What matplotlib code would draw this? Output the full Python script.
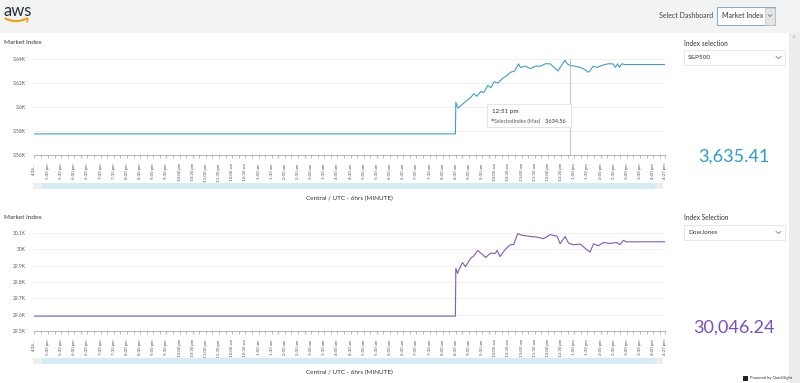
import numpy as np
import pandas as pd
import matplotlib
matplotlib.use("Agg")
import matplotlib.pyplot as plt
import matplotlib.dates as mdates
from matplotlib.patches import Rectangle, Arc
from matplotlib.lines import Line2D

plt.rcParams['font.family'] = ['Lato', 'DejaVu Sans']

# --- data -----------------------------------------------------------------
window_start = "2020-11-23 16:28"
window_end = "2020-11-24 16:27"
trade_day = "2020-11-24"
pre_open = "08:29"

spx_prev_close = 3577.59
spx_last = 3635.41
spx_times = ["08:30", "08:35", "08:44", "08:57", "09:04", "09:11", "09:18", "09:27",
             "09:34", "09:43", "09:50", "09:57", "10:06", "10:17", "10:26", "10:35",
             "10:44", "10:53", "10:57", "11:09", "11:20", "11:31", "11:43", "11:54",
             "12:05", "12:17", "12:23", "12:28", "12:39", "12:44", "12:51", "13:02",
             "13:14", "13:25", "13:32", "13:36", "13:43", "13:52", "14:06", "14:17",
             "14:28", "14:34", "14:39", "14:43", "14:48", "14:55"]
spx_values = [3604, 3599, 3602, 3606, 3608, 3611, 3609, 3613,
              3612, 3618, 3616, 3621, 3620, 3624, 3626, 3629,
              3630, 3636, 3633, 3634, 3632, 3634, 3634, 3636,
              3636, 3632, 3630, 3633, 3639, 3636, 3634.56, 3634,
              3633, 3631, 3629, 3630, 3634, 3633, 3635, 3636,
              3636, 3633, 3636, 3633, 3636, 3635.4]

dji_prev_close = 29591.27
dji_last = 30046.24
dji_times = ["08:30", "08:34", "08:37", "08:45", "08:52", "09:04", "09:11", "09:20",
             "09:30", "09:38", "09:49", "10:00", "10:04", "10:11", "10:23", "10:34",
             "10:42", "10:51", "11:01", "11:20", "11:35", "11:50", "12:05", "12:21",
             "12:28", "12:39", "12:47", "12:58", "13:14", "13:29", "13:36", "13:44",
             "13:55", "14:07", "14:22", "14:37", "14:44", "14:52", "14:59"]
dji_values = [29884, 29853, 29874, 29919, 29894, 29946, 29960, 29993,
              29970, 29950, 29977, 29975, 29993, 29956, 30001, 30028,
              30030, 30096, 30086, 30079, 30075, 30065, 30090, 30080,
              30034, 30079, 30038, 30028, 30032, 29997, 29983, 30034,
              30022, 30042, 30036, 30042, 30028, 30055, 30046]

spx_yticks = [3560, 3580, 3600, 3620, 3640]
spx_ylabels = ["3.56K", "3.58K", "3.6K", "3.62K", "3.64K"]
dji_yticks = [29500, 29600, 29700, 29800, 29900, 30000, 30100]
dji_ylabels = ["29.5K", "29.6K", "29.7K", "29.8K", "29.9K", "30K", "30.1K"]

tick_times = pd.date_range("2020-11-23 17:00", "2020-11-24 16:00", freq="30min")
first_label = "4:28..."
last_label = "4:27 pm"

tooltip_time = "12:51"
tooltip_value = 3634.56

spx_color = "#3d9fc9"
dji_color = "#8059b6"

W, H = 800, 383


def fx(x):
    return x / W


def fy(y):
    return 1 - y / H


def build_series(prev_close, times, values, last):
    t = [window_start, f"{trade_day} {pre_open}"] + [f"{trade_day} {s}" for s in times] + [window_end]
    v = [prev_close, prev_close] + list(values) + [last]
    return pd.to_datetime(t), v


def tlabel(ts):
    return ts.strftime("%I:%M %p").lstrip("0").lower()


fig = plt.figure(figsize=(8, 3.83), dpi=100)
fig.patch.set_facecolor("white")

# header and side strip
fig.add_artist(Rectangle((0, fy(33)), 1, 33 / H, transform=fig.transFigure,
                         facecolor="#f2f3f3", edgecolor="none", zorder=0))
fig.add_artist(Rectangle((fx(789), 0), 11 / W, fy(33), transform=fig.transFigure,
                         facecolor="#ececec", edgecolor="none", zorder=0))
fig.text(fx(792), fy(41), "^", fontsize=5, color="#aaaaaa")

# aws logo
fig.text(fx(4), fy(11), "aws", fontsize=12, color="#232f3e", va="center", ha="left")
fig.add_artist(Arc((fx(16), fy(16)), 24 / W, 10 / H, theta1=200, theta2=340,
                   transform=fig.transFigure, color="#ff9900", lw=1.4))
fig.add_artist(Line2D([fx(24), fx(28), fx(27)], [fy(19.5), fy(18.5), fy(22)],
                      transform=fig.transFigure, color="#ff9900", lw=1.0))

# select dashboard
fig.text(fx(713), fy(16), "Select Dashboard", fontsize=5, color="#444444", ha="right", va="center")
fig.add_artist(Rectangle((fx(717), fy(25)), 58 / W, 18 / H, transform=fig.transFigure,
                         facecolor="white", edgecolor="#7fa9d8", lw=0.7))
fig.add_artist(Rectangle((fx(765), fy(24.5)), 9.5 / W, 17 / H, transform=fig.transFigure,
                         facecolor="#e4e4e4", edgecolor="#bbbbbb", lw=0.4))
fig.text(fx(722), fy(16), "Market Index", fontsize=5, color="#333333", va="center")
fig.add_artist(Line2D([fx(768), fx(770), fx(772)], [fy(14.5), fy(16.5), fy(14.5)],
                      transform=fig.transFigure, color="#666666", lw=0.5))


def draw_panel(top, bottom, times, values, color, yticks, ylabels, title_y, bar_y, label_y):
    ax = fig.add_axes([fx(34), fy(bottom), (665 - 34) / W, (bottom - top) / H])
    ax.plot(times, values, color=color, lw=0.8)
    ax.set_ylim(yticks[0], yticks[-1])
    ax.set_yticks(yticks)
    ax.set_yticklabels(ylabels)
    start, end = pd.Timestamp(window_start), pd.Timestamp(window_end)
    ax.set_xlim(start, end)
    ax.set_xticks([start] + list(tick_times) + [end])
    ax.set_xticklabels([first_label] + [tlabel(t) for t in tick_times] + [last_label],
                       rotation=90, fontsize=3.2, color="#555555")
    ax.xaxis.set_minor_locator(mdates.MinuteLocator(byminute=[15, 45]))
    ax.tick_params(axis="x", which="both", length=2, width=0.4, color="#888888", pad=4)
    ax.tick_params(axis="y", length=0, labelsize=3.5, labelcolor="#555555", pad=6)
    ax.grid(axis="y", color="#eeeeee", lw=0.6)
    for s in ["top", "right", "left"]:
        ax.spines[s].set_visible(False)
    ax.spines["bottom"].set_color("#999999")
    ax.spines["bottom"].set_linewidth(0.5)
    ax.set_axisbelow(True)

    fig.text(fx(4), fy(title_y), "Market Index", fontsize=4.6, color="#333333", va="center")
    # range slider
    fig.add_artist(Rectangle((fx(33), fy(bar_y + 6)), 9 / W, 6 / H, transform=fig.transFigure,
                             facecolor="#efefef", edgecolor="none"))
    fig.add_artist(Rectangle((fx(42), fy(bar_y + 6)), 613 / W, 6 / H, transform=fig.transFigure,
                             facecolor="#d6ecf5", edgecolor="none"))
    fig.add_artist(Rectangle((fx(655), fy(bar_y + 6)), 8 / W, 6 / H, transform=fig.transFigure,
                             facecolor="#ececec", edgecolor="none"))
    fig.text(fx(349), fy(label_y), "Central / UTC - 6hrs (MINUTE)", fontsize=4.6,
             color="#333333", ha="center", va="center")
    return ax


spx_t, spx_v = build_series(spx_prev_close, spx_times, spx_values, spx_last)
dji_t, dji_v = build_series(dji_prev_close, dji_times, dji_values, dji_last)

ax1 = draw_panel(59, 155, spx_t, spx_v, spx_color, spx_yticks, spx_ylabels, 43, 183, 198)
ax2 = draw_panel(233, 331, dji_t, dji_v, dji_color, dji_yticks, dji_ylabels, 217, 358, 372)

# hover line and tooltip on the top chart
hover = pd.Timestamp(f"{trade_day} {tooltip_time}")
ax1.axvline(hover, color="#bbbbbb", lw=0.6)
fig.add_artist(Rectangle((fx(488), fy(128)), 84 / W, 23 / H, transform=fig.transFigure,
                         facecolor="#eeeeee", edgecolor="none", zorder=4))
fig.add_artist(Rectangle((fx(487), fy(127)), 84 / W, 23 / H, transform=fig.transFigure,
                         facecolor="white", edgecolor="#dddddd", lw=0.5, zorder=5))
fig.text(fx(492), fy(111), tlabel(hover), fontsize=4.5, color="#333333", va="center", zorder=6)
fig.text(fx(490.5), fy(121), "\u25c6", fontsize=3, color=spx_color, va="center",
         family=["DejaVu Sans"], zorder=6)
fig.text(fx(494), fy(121), "SelectedIndex (Max)", fontsize=3.7, color="#555555", va="center", zorder=6)
fig.text(fx(545), fy(121), f"{tooltip_value:,.2f}", fontsize=4.1, color="#333333", va="center", zorder=6)


def draw_side(title_y, box_y, title, choice, value, color, value_y):
    fig.text(fx(684), fy(title_y), title, fontsize=4.8, color="#333333", va="center")
    fig.add_artist(Rectangle((fx(684), fy(box_y + 15)), 101 / W, 15 / H, transform=fig.transFigure,
                             facecolor="white", edgecolor="#dddddd", lw=0.5))
    fig.text(fx(688), fy(box_y + 7.5), choice, fontsize=4.6, color="#333333", va="center")
    fig.add_artist(Line2D([fx(776), fx(778.5), fx(781)], [fy(box_y + 6.5), fy(box_y + 8.5), fy(box_y + 6.5)],
                          transform=fig.transFigure, color="#666666", lw=0.5))
    fig.text(fx(734), fy(value_y), f"{value:,.2f}", fontsize=13, color=color,
             ha="center", va="center")


draw_side(43, 50, "Index selection", "S&P500", spx_last, "#2e9ad0", 157)
draw_side(217, 225, "Index Selection", "DowJones", dji_last, "#7b4cc8", 328)

fig.add_artist(Rectangle((fx(743), fy(380.5)), 5 / W, 5 / H, transform=fig.transFigure,
                         facecolor="#222222", edgecolor="none"))
fig.text(fx(750), fy(378), "Powered by QuickSight", fontsize=3, color="#333333", va="center")

fig.savefig("out.png", dpi=100, facecolor=fig.get_facecolor())
